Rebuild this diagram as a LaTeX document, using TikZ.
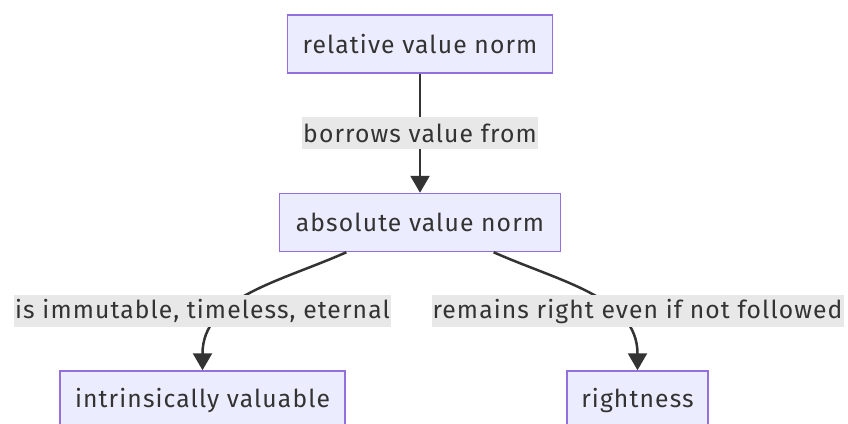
\documentclass[tikz,border=0pt]{standalone}
\usepackage{fontspec}
\setmainfont{Fira Sans}[LetterSpace=4.5]
\usetikzlibrary{arrows.meta, positioning}
\definecolor{nodeFill}{HTML}{ECECFF}
\definecolor{nodeLine}{HTML}{9370DB}
\definecolor{edgeInk}{HTML}{333333}
\definecolor{labelFill}{HTML}{E8E8E8}

\begin{document}
\begin{tikzpicture}[
  x=1pt, y=1pt,
  box/.style={draw=nodeLine, line width=1.5pt, fill=nodeFill, text=edgeInk,
              minimum height=58pt, inner xsep=0pt, font=\fontsize{24.7}{29}\selectfont},
  tag/.style={fill=labelFill, text=edgeInk, minimum height=32pt, inner xsep=1pt,
              inner ysep=0pt, font=\fontsize{24.7}{29}\selectfont},
  arrow/.style={-{Triangle[length=17pt, width=19pt]}, line width=2.5pt, edgeInk}
]
\useasboundingbox (0,0) rectangle (848,-423);
\node[box, minimum width=265pt] (relative) at (420,-44) {relative value norm};
\node[box, minimum width=281pt, below=119pt of relative] (absolute) {absolute value norm};
\node[box, minimum width=285pt, below=118pt of absolute, xshift=-217.5pt] (intrinsic) {intrinsically valuable};
\node[box, minimum width=141pt, below=118pt of absolute, xshift=217.5pt] (rightness) {rightness};

\draw[arrow] (relative) -- node[tag] (borrows) {borrows value from} (absolute);
\draw[arrow] (absolute.202) to[out=204, in=90] (intrinsic.north);
\draw[arrow] (absolute.338) to[out=-24, in=90] (rightness.north);

\node[tag, above=43pt of intrinsic] (immutable) {is immutable, timeless, eternal};
\node[tag, above=43pt of rightness] (remains) {remains right even if not followed};
\end{tikzpicture}
\end{document}
